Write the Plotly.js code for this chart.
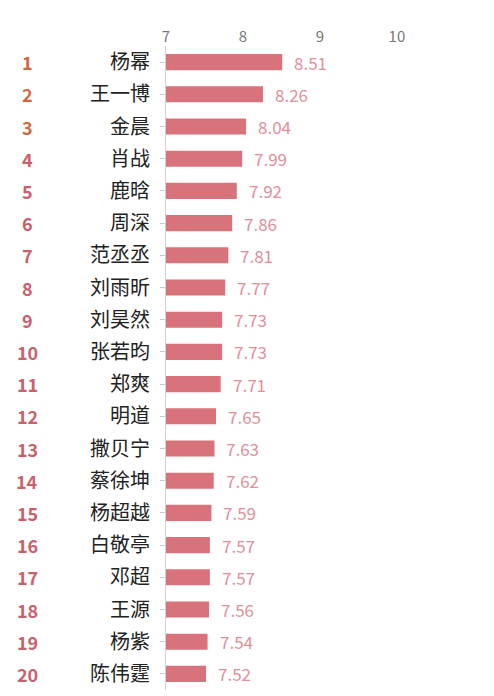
<!DOCTYPE html>
<html>
<head>
<meta charset="utf-8">
<script src="https://cdn.plot.ly/plotly-3.0.1.min.js"></script>
<style>
  html, body { margin: 0; padding: 0; background: #fff; }
  #chart { width: 494px; height: 696px; }
</style>
</head>
<body>
<div id="chart"></div>
<script>
const ranks = ['1', '2', '3', '4', '5', '6', '7', '8', '9', '10',
  '11', '12', '13', '14', '15', '16', '17', '18', '19', '20'];
const names = ['杨幂', '王一博', '金晨', '肖战', '鹿晗', '周深', '范丞丞', '刘雨昕', '刘昊然', '张若昀',
  '郑爽', '明道', '撒贝宁', '蔡徐坤', '杨超越', '白敬亭', '邓超', '王源', '杨紫', '陈伟霆'];
const scores = [8.51, 8.26, 8.04, 7.99, 7.92, 7.86, 7.81, 7.77, 7.73, 7.73,
  7.71, 7.65, 7.63, 7.62, 7.59, 7.57, 7.57, 7.56, 7.54, 7.52];
const xTicks = [7, 8, 9, 10];

const FONT = '"Noto Sans CJK SC", "Noto Sans", sans-serif';
const AXIS_L = 166;
const PLOT_W = 254;

// bars start at 0 and get clipped at the axis start (7)
const bars = {
  type: 'bar',
  orientation: 'h',
  x: scores,
  y: names,
  width: 0.5,
  marker: { color: '#d9737b' },
  hoverinfo: 'none',
};

// value labels beside each bar
const valueNotes = scores.map((v, i) => ({
  x: v,
  y: names[i],
  xref: 'x',
  yref: 'y',
  text: v.toFixed(2),
  showarrow: false,
  xanchor: 'left',
  xshift: 10,
  font: { family: FONT, size: 17, color: '#e28f9a' },
}));

// rank numbers on the far left
const rankNotes = ranks.map((r, i) => ({
  x: (27 - AXIS_L) / PLOT_W,
  y: names[i],
  xref: 'paper',
  yref: 'y',
  text: '<b>' + r + '</b>',
  showarrow: false,
  xanchor: 'center',
  font: { family: FONT, size: 18, color: i < 3 ? '#d4663f' : '#c9616d' },
}));

const layout = {
  width: 494,
  height: 696,
  margin: { l: AXIS_L, r: 494 - AXIS_L - PLOT_W, t: 46, b: 6 },
  paper_bgcolor: '#fff',
  plot_bgcolor: '#fff',
  showlegend: false,
  bargap: 0.5,
  xaxis: {
    side: 'top',
    range: [7, 10.3],
    tickvals: xTicks,
    ticktext: xTicks.map(String),
    showgrid: false,
    zeroline: false,
    showline: false,
    ticks: '',
    tickfont: { family: FONT, size: 15, color: '#777' },
    fixedrange: true,
  },
  yaxis: {
    type: 'category',
    autorange: 'reversed',
    showgrid: false,
    zeroline: false,
    showline: true,
    linecolor: '#d0d0d0',
    linewidth: 1,
    ticks: 'outside',
    ticklen: 5,
    tickcolor: '#c8c8c8',
    ticklabelstandoff: 6,
    tickfont: { family: FONT, size: 20, color: '#222' },
    fixedrange: true,
  },
  annotations: [...valueNotes, ...rankNotes],
};

Plotly.newPlot('chart', [bars], layout, { displayModeBar: false, staticPlot: true });
</script>
</body>
</html>
